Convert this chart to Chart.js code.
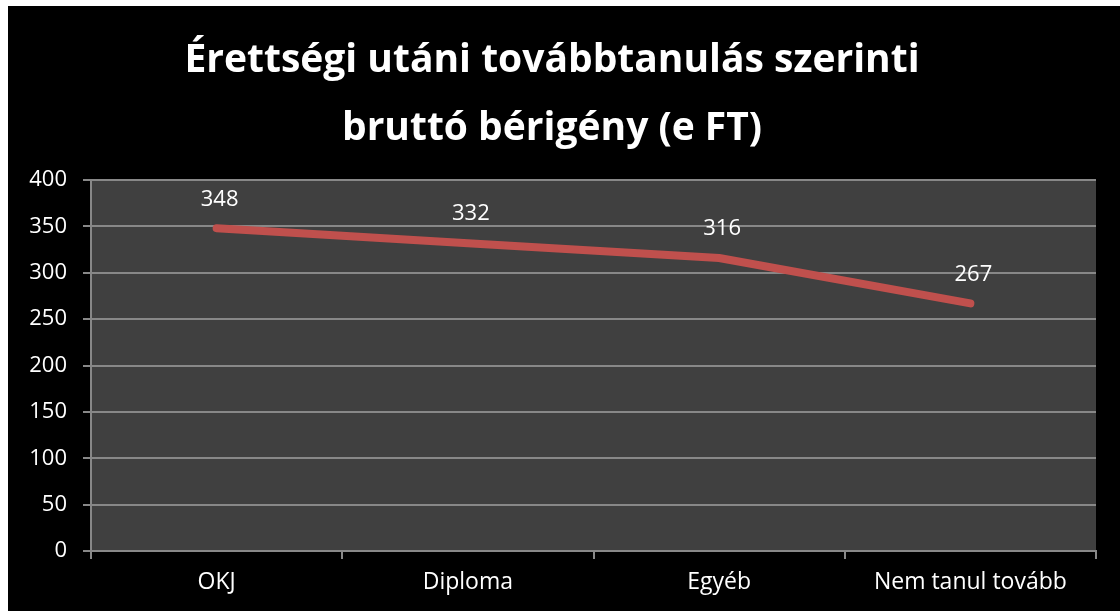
<!DOCTYPE html>
<html>
<head>
<meta charset="utf-8">
<script src="https://cdn.jsdelivr.net/npm/chart.js@4/dist/chart.umd.min.js"></script>
<style>
  html, body { margin: 0; padding: 0; background: #fff; }
  #wrap { position: absolute; left: 8px; top: 6px; width: 1112px; height: 605px; background: #000; }
</style>
</head>
<body>
<div id="wrap"><canvas id="chart" width="1112" height="605"></canvas></div>
<script>
// ------------------------------
//  Données
// ------------------------------
const categories = ["OKJ", "Diploma", "Egyéb", "Nem tanul tovább"];
const salaries = [348, 332, 316, 267];
const titleLines = ["Érettségi utáni továbbtanulás szerinti", "bruttó bérigény (e FT)"];

const FONT = "'Open Sans', sans-serif";

// fond gris de la zone de tracé
const plotBg = {
  id: "plotBg",
  beforeDraw(chart) {
    const { ctx, chartArea: a } = chart;
    ctx.save();
    ctx.fillStyle = "#404040";
    ctx.fillRect(a.left, a.top, a.right - a.left, a.bottom - a.top);
    ctx.restore();
  }
};

// étiquettes de valeurs au-dessus des points
const valueLabels = {
  id: "valueLabels",
  afterDatasetsDraw(chart) {
    const { ctx } = chart;
    const meta = chart.getDatasetMeta(0);
    ctx.save();
    ctx.fillStyle = "#fff";
    ctx.font = "22px " + FONT;
    ctx.textAlign = "center";
    ctx.textBaseline = "middle";
    meta.data.forEach((pt, i) => {
      ctx.fillText(String(salaries[i]), pt.x + 3, pt.y - 29);
    });
    ctx.restore();
  }
};

new Chart(document.getElementById("chart"), {
  type: "line",
  data: {
    labels: categories,
    datasets: [{
      data: salaries,
      borderColor: "#C0504D",
      borderWidth: 8,
      borderCapStyle: "round",
      borderJoinStyle: "round",
      pointRadius: 0,
      tension: 0,
      fill: false
    }]
  },
  options: {
    responsive: false,
    animation: false,
    layout: { padding: { left: 0, right: 24, top: 0, bottom: 0 } },
    plugins: {
      legend: { display: false },
      tooltip: { enabled: false },
      title: {
        display: true,
        text: titleLines,
        color: "#fff",
        font: { family: FONT, size: 39, weight: "bold", lineHeight: 1.745 },
        padding: { top: 21, bottom: 17 }
      }
    },
    scales: {
      x: {
        offset: true,
        grid: {
          offset: true,
          drawOnChartArea: false,
          drawTicks: true,
          tickLength: 8,
          color: "#888888",
          lineWidth: 2
        },
        border: { color: "#888888", width: 2 },
        ticks: { color: "#fff", font: { family: FONT, size: 23 }, padding: 10 },
        afterFit(s) { s.height = 60; }
      },
      y: {
        min: 0,
        max: 400,
        grid: {
          color: "#888888",
          lineWidth: 2,
          tickLength: 8
        },
        border: { color: "#888888", width: 2 },
        ticks: { stepSize: 50, color: "#fff", font: { family: FONT, size: 22 }, padding: 16 },
        afterFit(s) { s.width = 83; }
      }
    }
  },
  plugins: [plotBg, valueLabels]
});
</script>
</body>
</html>
